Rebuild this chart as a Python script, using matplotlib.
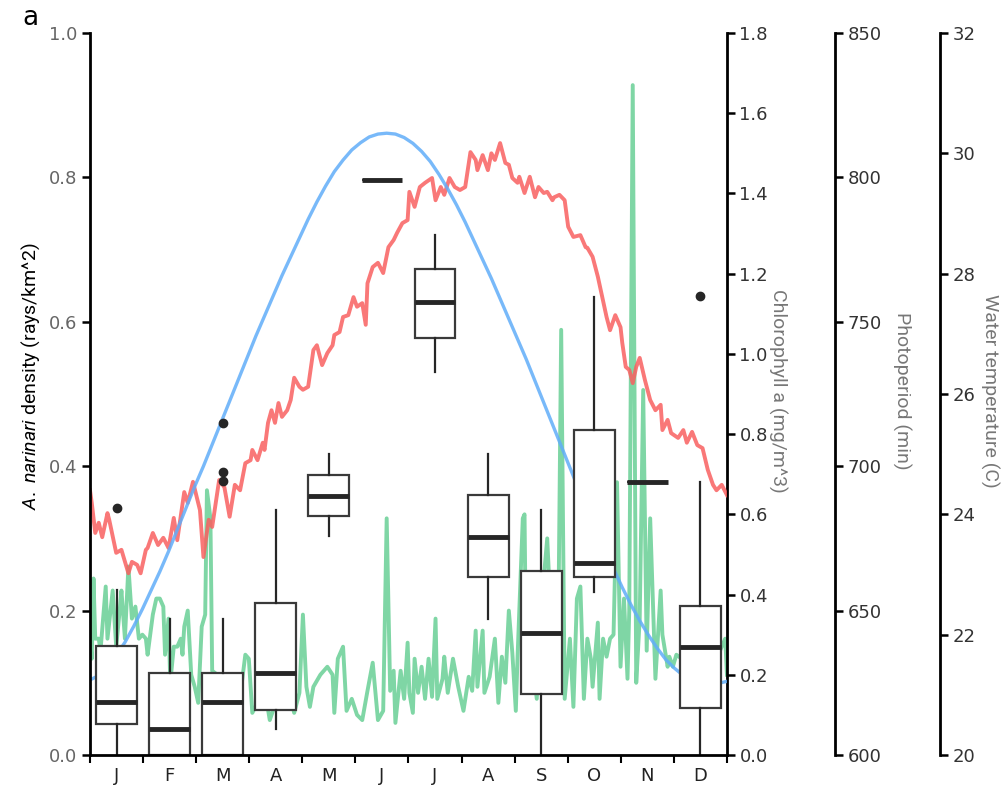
import matplotlib
matplotlib.use("Agg")
import matplotlib.pyplot as plt
from matplotlib import font_manager
import numpy as np

# month labels and box summaries of ray density (rays/km^2)
months = ["J", "F", "M", "A", "M", "J", "J", "A", "S", "O", "N", "D"]
dens_med = [0.074, 0.036, 0.074, 0.113, 0.359, 0.797, 0.627, 0.302, 0.169, 0.266, 0.3785, 0.150]
dens_q1 = [0.043, 0.000, 0.000, 0.062, 0.331, 0.797, 0.578, 0.246, 0.084, 0.246, 0.3785, 0.065]
dens_q3 = [0.151, 0.113, 0.113, 0.210, 0.388, 0.797, 0.673, 0.360, 0.255, 0.450, 0.3785, 0.206]
dens_lo = [0.000, 0.000, 0.000, 0.036, 0.303, 0.797, 0.531, 0.188, 0.000, 0.226, 0.3785, 0.000]
dens_hi = [0.229, 0.189, 0.189, 0.340, 0.417, 0.797, 0.720, 0.417, 0.340, 0.634, 0.3785, 0.378]
dens_out = [[0.342], [], [0.46, 0.392, 0.38], [], [], [], [], [], [], [], [], [0.636]]

# chlorophyll a (mg/m^3) by day of year
chl_day = [0, 1, 2, 3, 5, 6, 9, 10, 13, 15, 17, 18, 20, 22, 24, 26, 28, 30, 32, 33,
           36, 38, 40, 42, 43, 45, 46, 48, 50, 52, 53, 54, 56, 58, 60, 62, 64, 66, 67, 69,
           70, 73, 76, 79, 80, 84, 86, 89, 91, 93, 96, 99, 101, 103, 106, 109, 112, 115, 117, 120,
           122, 124, 126, 128, 132, 136, 139, 140, 142, 145, 147, 150, 153, 156, 159, 162, 165, 168, 170, 172,
           174, 175, 178, 180, 182, 183, 185, 186, 188, 190, 192, 194, 196, 198, 199, 202, 203, 205, 208, 211,
           214, 217, 219, 221, 222, 225, 226, 229, 232, 234, 236, 238, 240, 242, 244, 245, 248, 249, 250, 253,
           256, 259, 262, 265, 268, 270, 272, 275, 277, 279, 281, 283, 285, 287, 288, 291, 292, 294, 296, 298,
           300, 302, 304, 306, 308, 309, 311, 313, 315, 317, 319, 321, 324, 327, 328, 331, 332, 334, 336, 339,
           341, 344, 347, 350, 352, 355, 358, 361, 364, 365]
chl_val = [0.29, 0.24, 0.44, 0.29, 0.29, 0.26, 0.42, 0.29, 0.41, 0.27, 0.36, 0.41, 0.29, 0.47, 0.34, 0.37, 0.29, 0.30, 0.29, 0.25,
           0.35, 0.39, 0.39, 0.37, 0.25, 0.34, 0.18, 0.27, 0.27, 0.29, 0.25, 0.32, 0.36, 0.20, 0.17, 0.13, 0.32, 0.35, 0.66, 0.59,
           0.21, 0.20, 0.20, 0.155, 0.17, 0.105, 0.145, 0.25, 0.24, 0.105, 0.13, 0.16, 0.14, 0.087, 0.125, 0.15, 0.125, 0.14, 0.105, 0.155,
           0.35, 0.17, 0.12, 0.17, 0.20, 0.22, 0.20, 0.105, 0.24, 0.27, 0.11, 0.14, 0.10, 0.087, 0.16, 0.23, 0.087, 0.11, 0.59, 0.16,
           0.21, 0.08, 0.21, 0.14, 0.28, 0.155, 0.105, 0.24, 0.155, 0.22, 0.14, 0.24, 0.145, 0.34, 0.14, 0.19, 0.245, 0.155, 0.24, 0.17,
           0.11, 0.195, 0.16, 0.31, 0.17, 0.31, 0.155, 0.195, 0.29, 0.13, 0.245, 0.18, 0.36, 0.255, 0.11, 0.245, 0.59, 0.60, 0.19, 0.26,
           0.14, 0.39, 0.54, 0.26, 0.16, 1.06, 0.14, 0.29, 0.12, 0.39, 0.42, 0.14, 0.29, 0.24, 0.17, 0.33, 0.14, 0.29, 0.245, 0.29,
           0.30, 0.68, 0.22, 0.39, 0.19, 0.36, 1.67, 0.18, 0.34, 0.91, 0.26, 0.59, 0.19, 0.41, 0.30, 0.22, 0.245, 0.22, 0.25, 0.24,
           0.26, 0.29, 0.25, 0.27, 0.26, 0.29, 0.24, 0.26, 0.29, 0.20]

# water temperature (C) by day of year
temp_day = [0, 1, 3, 5, 7, 10, 11, 15, 18, 22, 24, 27, 29, 32, 33, 36, 39, 42, 45, 48,
            50, 54, 56, 59, 63, 65, 68, 70, 74, 77, 80, 83, 86, 89, 92, 93, 96, 99, 100, 102,
            104, 106, 108, 110, 113, 115, 117, 120, 122, 125, 128, 130, 133, 136, 139, 140, 143, 145, 148, 151,
            153, 156, 158, 159, 162, 165, 168, 171, 174, 176, 179, 182, 183, 186, 189, 192, 196, 198, 201, 203,
            206, 209, 212, 215, 218, 221, 222, 225, 228, 230, 232, 235, 238, 240, 242, 245, 246, 249, 252, 255,
            257, 260, 262, 265, 266, 269, 272, 274, 277, 281, 284, 285, 288, 291, 293, 296, 298, 301, 304, 305,
            307, 309, 311, 313, 315, 318, 321, 324, 327, 328, 331, 333, 337, 340, 342, 345, 348, 351, 354, 357,
            359, 362, 365]
temp_val = [24.40, 24.19, 23.69, 23.86, 23.62, 24.02, 23.91, 23.36, 23.41, 23.02, 23.21, 23.16, 23.02, 23.41, 23.44, 23.69, 23.49, 23.61, 23.44, 23.94,
            23.57, 24.37, 24.19, 24.54, 24.07, 23.29, 23.91, 23.79, 24.57, 24.45, 23.96, 24.49, 24.40, 24.85, 24.90, 25.07, 24.90, 25.19, 25.07, 25.52,
            25.73, 25.52, 25.85, 25.62, 25.73, 25.90, 26.27, 26.12, 26.07, 26.12, 26.73, 26.81, 26.48, 26.68, 26.81, 26.98, 27.03, 27.28, 27.31, 27.61,
            27.45, 27.51, 27.15, 27.84, 28.11, 28.18, 28.01, 28.44, 28.56, 28.68, 28.84, 28.89, 29.36, 29.11, 29.44, 29.51, 29.59, 29.22, 29.44, 29.31,
            29.59, 29.44, 29.39, 29.44, 30.02, 29.89, 29.72, 29.97, 29.72, 30.00, 29.89, 30.17, 29.84, 29.81, 29.59, 29.51, 29.61, 29.34, 29.61, 29.27,
            29.44, 29.34, 29.36, 29.22, 29.27, 29.31, 29.22, 28.78, 28.61, 28.64, 28.44, 28.43, 28.28, 27.95, 27.68, 27.28, 27.06, 27.31, 27.11, 26.85,
            26.45, 26.40, 26.18, 26.45, 26.60, 26.23, 25.90, 25.73, 25.82, 25.40, 25.57, 25.35, 25.27, 25.40, 25.19, 25.37, 25.15, 25.10, 24.74, 24.49,
            24.40, 24.49, 24.32]

# photoperiod (min), read every 5 days
photo_day = [0, 5, 10, 15, 20, 25, 30, 35, 40, 45, 50, 55, 60, 65, 70, 75, 80, 85, 90, 95,
             100, 105, 110, 115, 120, 125, 130, 135, 140, 145, 150, 155, 160, 165, 170, 175, 180, 185, 190, 195,
             200, 205, 210, 215, 220, 225, 230, 235, 240, 245, 250, 255, 260, 265, 270, 275, 280, 285, 290, 295,
             300, 305, 310, 315, 320, 325, 330, 335, 340, 345, 350, 355, 360, 365]
photo_val = [626, 627.5, 630.5, 634.5, 639, 644.5, 650.5, 657, 663.5, 670.5, 678, 685.5, 693, 700, 707.5, 715, 722.5, 730, 737.5, 745,
             752, 759, 766, 772.5, 779, 785.5, 791.5, 797, 802, 806, 809.5, 812, 814, 815, 815.3, 815, 813.8, 811.8, 809, 805.5,
             801, 796, 790.5, 784.5, 778, 771.5, 765, 758, 751, 744, 737, 729.5, 722, 714.5, 707, 699.5, 692, 685, 678, 671,
             664.5, 658, 652, 646.5, 641.5, 637, 633, 630, 627.5, 626, 625, 624.6, 624.8, 625.5]

names = {f.name for f in font_manager.fontManager.ttflist}
label_font = "Liberation Sans Narrow" if "Liberation Sans Narrow" in names else "Roboto"
plt.rcParams["font.family"] = ["DejaVu Sans"]
plt.rcParams["mathtext.fontset"] = "custom"
plt.rcParams["mathtext.it"] = label_font + ":italic"
plt.rcParams["mathtext.rm"] = label_font


def day_pos(days):
    return 0.5 + np.asarray(days) / 365.0 * 12


fig = plt.figure(figsize=(10.08, 7.89), dpi=100)
ax = fig.add_axes([0.0893, 0.0431, 0.6319, 0.9151])
ax_chl = ax.twinx()
ax_temp = ax.twinx()
ax_ph = ax.twinx()

ax_chl.plot(day_pos(chl_day), chl_val, color="#69cf95", lw=2.8, alpha=0.85)
ax_temp.plot(day_pos(temp_day), temp_val, color="#f96060", lw=2.8, alpha=0.85)
ax_ph.plot(day_pos(photo_day), photo_val, color="#61adf9", lw=2.4, alpha=0.85)

stats = []
for i in range(12):
    stats.append({"med": dens_med[i], "q1": dens_q1[i], "q3": dens_q3[i],
                  "whislo": dens_lo[i], "whishi": dens_hi[i], "fliers": dens_out[i]})
ax.bxp(stats, positions=range(1, 13), widths=0.77, showcaps=False, patch_artist=True,
       boxprops=dict(facecolor="white", edgecolor="#3a3a3a", lw=1.6),
       medianprops=dict(color="#262626", lw=3.5, solid_capstyle="butt"),
       whiskerprops=dict(color="#262626", lw=1.6),
       flierprops=dict(marker="o", markerfacecolor="#262626", markeredgecolor="#262626", markersize=6))

ax.set_zorder(ax_ph.get_zorder() + 1)
ax.patch.set_visible(False)

ax.set_xlim(0.5, 12.5)
ax.set_ylim(0, 1.0)
ax.set_yticks(np.arange(0, 1.01, 0.2))
ax.set_yticklabels([f"{v:.1f}" for v in np.arange(0, 1.01, 0.2)])
ax.set_xticks(range(1, 13))
ax.set_xticklabels(months)
ax.set_xticks(np.arange(0.5, 12.6, 1), minor=True)
ax.tick_params(axis="x", which="major", length=0, pad=9, labelsize=13, labelcolor="#222222")
ax.tick_params(axis="x", which="minor", length=6, width=1.5)
ax.tick_params(axis="y", length=6, width=1.8, pad=3, labelsize=13, labelcolor="#666666")
for s in ["top", "right"]:
    ax.spines[s].set_visible(False)
for s in ["left", "bottom"]:
    ax.spines[s].set_linewidth(2)
ax.set_ylabel(r"$\mathit{A.\ narinari}$ density (rays/km^2)", fontsize=14, family=label_font)
ax.yaxis.set_label_coords(-0.075, 0.524)

twins = [(ax_chl, 1.0, (0, 1.8), np.arange(0, 1.81, 0.2), "{:.1f}", "Chlorophyll a (mg/m^3)", 1.080),
         (ax_ph, 1.1695, (600, 850), np.arange(600, 851, 50), "{:.0f}", "Photoperiod (min)", 1.274),
         (ax_temp, 1.3344, (20, 32), np.arange(20, 33, 2), "{:.0f}", "Water temperature (C)", 1.412)]
for tax, pos, lim, ticks, fmt, lab, lx in twins:
    for s in ["top", "left", "bottom"]:
        tax.spines[s].set_visible(False)
    tax.spines["right"].set_position(("axes", pos))
    tax.spines["right"].set_linewidth(2)
    tax.set_ylim(*lim)
    tax.set_yticks(ticks)
    tax.set_yticklabels([fmt.format(t) for t in ticks])
    tax.tick_params(axis="y", length=6, width=1.8, pad=3, labelsize=13, labelcolor="#333333")
    tax.set_ylabel(lab, fontsize=14, family=label_font, color="#777777", rotation=270, va="center")
    tax.yaxis.set_label_coords(lx, 0.504)

fig.text(0.03, 0.977, "a", fontsize=19, va="center", ha="center")

fig.savefig("out.png", dpi=100)
